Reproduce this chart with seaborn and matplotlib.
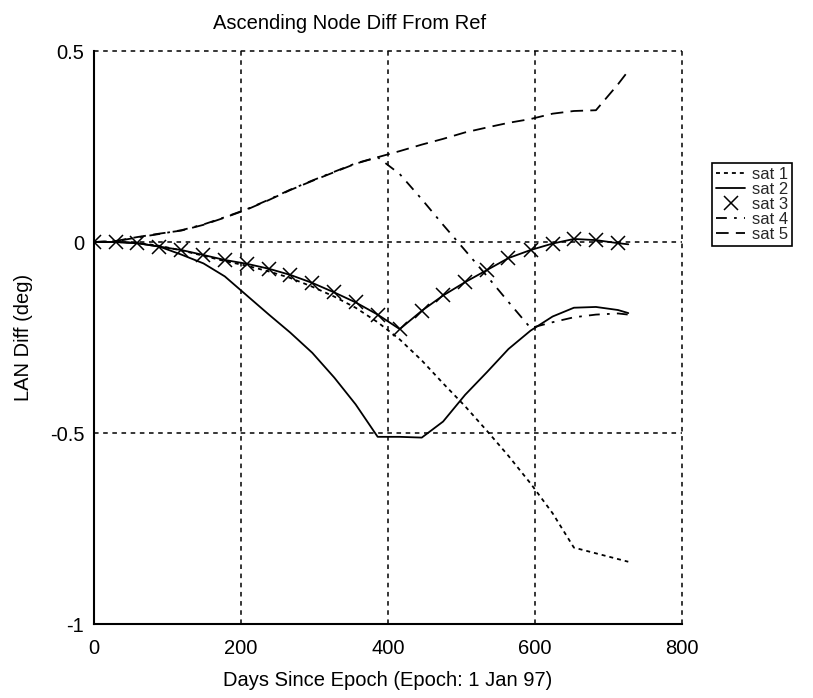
import matplotlib
matplotlib.use("Agg")
import matplotlib.pyplot as plt
import seaborn as sns

# Days since epoch (sample times)
days = [0, 30, 59, 89, 119, 149, 178, 208, 238, 267, 297, 327, 356, 386,
        416, 446, 475, 505, 535, 564, 594, 624, 653, 683, 713, 727]

# LAN difference from reference (deg) for each satellite
sat1 = [0, 0, -0.002, -0.010, -0.022, -0.036, -0.050, -0.062, -0.077, -0.094,
        -0.117, -0.143, -0.172, -0.210, -0.255, -0.310, -0.370, -0.430, -0.495,
        -0.560, -0.632, -0.710, -0.800, -0.815, -0.830, -0.837]
sat2 = [0, 0, -0.003, -0.012, -0.033, -0.056, -0.090, -0.140, -0.190, -0.237,
        -0.290, -0.355, -0.425, -0.510, -0.510, -0.512, -0.470, -0.400, -0.340,
        -0.280, -0.232, -0.195, -0.172, -0.170, -0.178, -0.186]
sat3 = [0, 0, -0.003, -0.012, -0.021, -0.034, -0.047, -0.057, -0.070, -0.086,
        -0.107, -0.132, -0.158, -0.190, -0.228, -0.180, -0.140, -0.105, -0.073,
        -0.042, -0.021, -0.004, 0.008, 0.005, -0.003, -0.006]
sat4 = [0, 0.002, 0.012, 0.021, 0.031, 0.046, 0.065, 0.086, 0.111, 0.137,
        0.161, 0.184, 0.206, 0.222, 0.178, 0.112, 0.045, -0.022, -0.090,
        -0.157, -0.225, -0.210, -0.197, -0.190, -0.187, -0.190]
sat5 = [0, 0.003, 0.013, 0.022, 0.030, 0.045, 0.064, 0.085, 0.110, 0.136,
        0.160, 0.183, 0.205, 0.222, 0.238, 0.255, 0.270, 0.287, 0.300, 0.312,
        0.322, 0.336, 0.343, 0.345, 0.413, 0.448]

x_ticks = [0, 200, 400, 600, 800]
y_ticks = [-1, -0.5, 0, 0.5]
y_tick_labels = ["-1", "-0.5", "0", "0.5"]

sns.set_theme(style="white")
plt.rcParams["font.family"] = ["Liberation Sans", "DejaVu Sans"]

fig = plt.figure(figsize=(8.13, 6.98), dpi=100)
ax = fig.add_axes([0.1156, 0.106, 0.7232, 0.8209])

k = "black"
sns.lineplot(x=days, y=sat1, ax=ax, color=k, lw=1.3,
             linestyle=(0, (2.2, 2.2)), label="sat 1")
sns.lineplot(x=days, y=sat2, ax=ax, color=k, lw=1.3, linestyle="-",
             label="sat 2")
sns.lineplot(x=days[:-1], y=sat3[:-1], ax=ax, color=k, linestyle="none",
             marker="x", markersize=9.5, markeredgewidth=1.1,
             markeredgecolor=k, label="sat 3")
sns.lineplot(x=days, y=sat3, ax=ax, color=k, lw=1.3, linestyle="-",
             label="_nolegend_")
sns.lineplot(x=days, y=sat4, ax=ax, color=k, lw=1.3,
             linestyle=(0, (6, 4, 1.5, 4)), label="sat 4")
sns.lineplot(x=days, y=sat5, ax=ax, color=k, lw=1.3,
             linestyle=(0, (7, 4)), label="sat 5")

ax.set_xlim(0, 800)
ax.set_ylim(-1, 0.5)
ax.set_xticks(x_ticks)
ax.set_xticklabels([str(t) for t in x_ticks])
ax.set_yticks(y_ticks)
ax.set_yticklabels(y_tick_labels)

ax.grid(True, color=k, linestyle=(0, (3, 3)), linewidth=1.1)
for gl in ax.get_xgridlines() + ax.get_ygridlines():
    gl.set_clip_on(False)
ax.set_axisbelow(True)

for side in ("top", "right"):
    ax.spines[side].set_visible(False)
for side in ("left", "bottom"):
    ax.spines[side].set_color(k)
    ax.spines[side].set_linewidth(1.5)

ax.tick_params(axis="both", direction="in", length=4, width=1, colors=k,
               labelsize=14.5, pad=7)
ax.tick_params(axis="x", pad=11)

ax.set_xlabel("Days Since Epoch (Epoch: 1 Jan 97)", fontsize=14.5,
              color=k, labelpad=9)
ax.set_ylabel("LAN Diff (deg)", fontsize=14.5, color=k, labelpad=12)
ax.set_title("Ascending Node Diff From Ref", fontsize=14.5, color=k,
             x=0.435, pad=16)

leg = ax.legend(loc="upper left", bbox_to_anchor=(712 / 813, 1 - 163 / 698),
                bbox_transform=fig.transFigure, fontsize=12,
                labelspacing=0.0, handlelength=1.75, handletextpad=0.4,
                borderpad=0.25, borderaxespad=0, fancybox=False,
                framealpha=1, edgecolor=k)
leg.get_frame().set_linewidth(1.2)

fig.savefig("out.png", dpi=100, facecolor="white")
